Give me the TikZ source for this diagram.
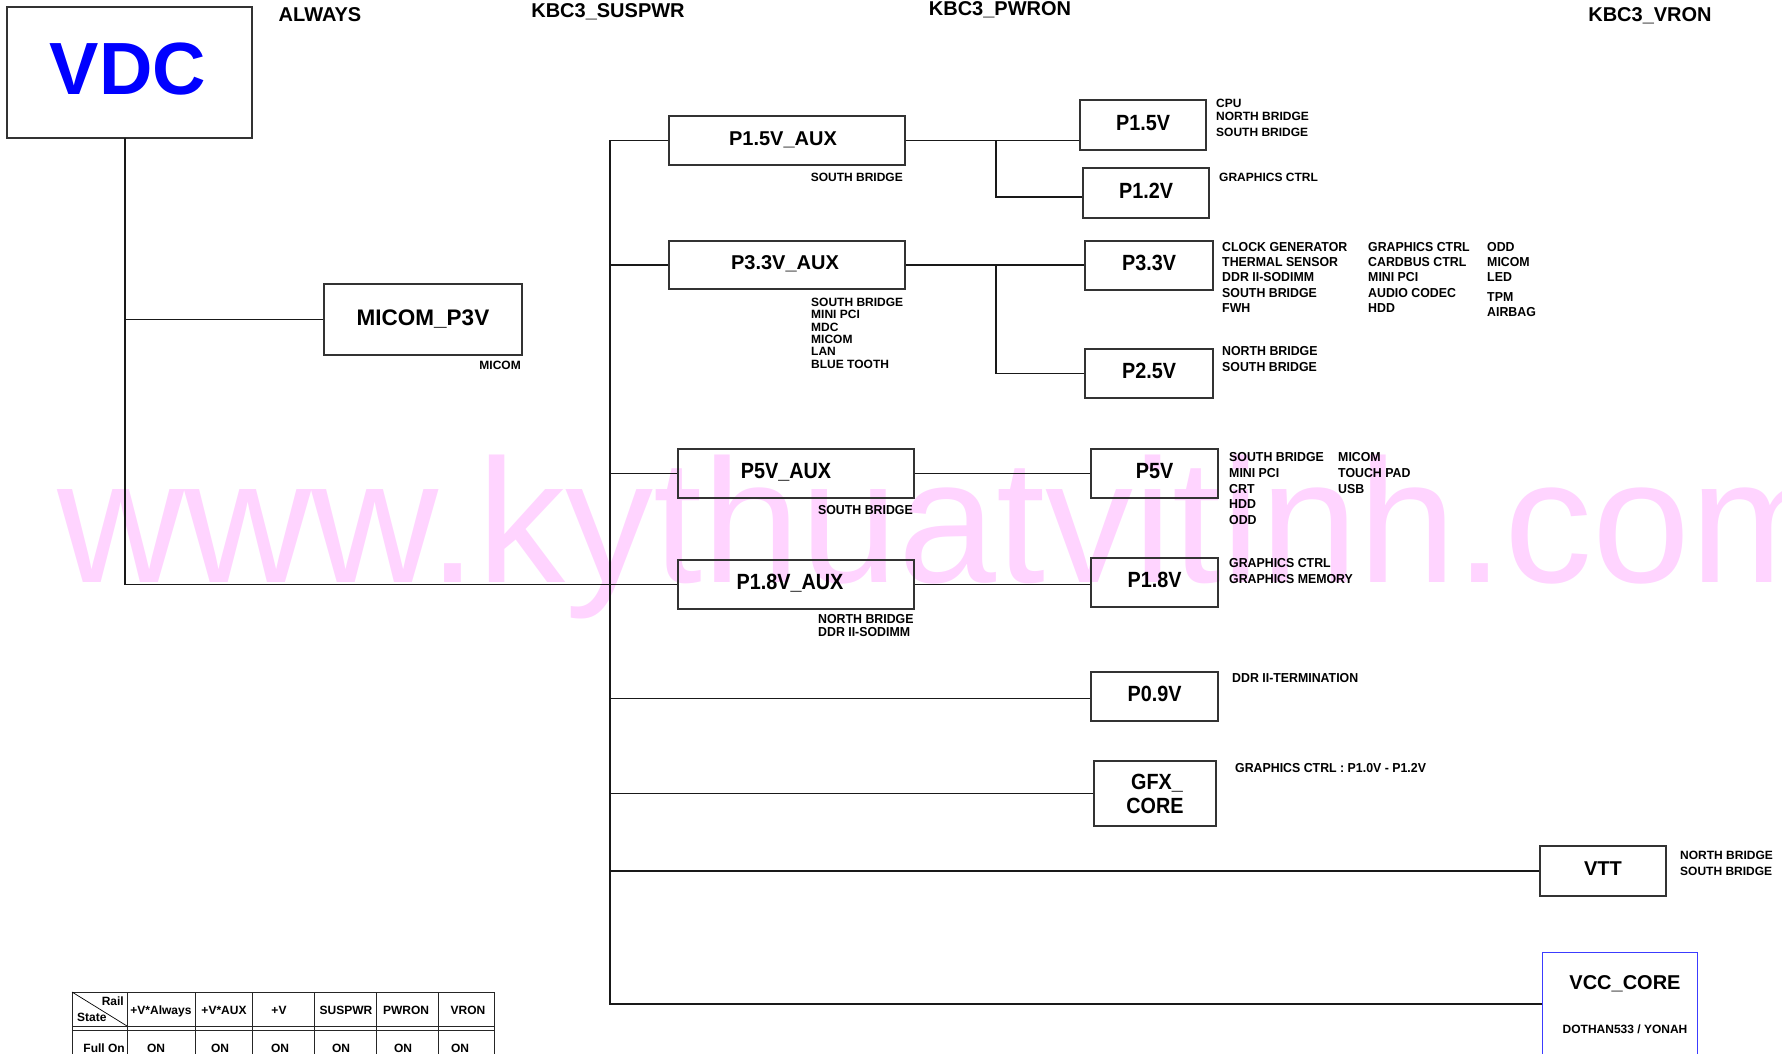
\documentclass[tikz,border=0pt]{standalone}
\usepackage{fontspec}
\setmainfont{Liberation Sans}
\newfontfamily\narf{Liberation Sans}[FakeStretch=0.9]
\newfontfamily\narl{Liberation Sans}[FakeStretch=0.95]
\definecolor{wm}{RGB}{255,212,255}
\definecolor{vdcblue}{RGB}{0,0,255}
\definecolor{vccblue}{RGB}{60,60,255}
\begin{document}
\begin{tikzpicture}[x=1pt,y=-1pt,
  box/.style={draw=black!80, line width=1.3pt, inner sep=0pt},
  conn/.style={line width=1.7pt, black!90},
  big/.style={font=\fontsize{20}{24}\selectfont\bfseries, text height=14.3pt, text depth=5pt},
  bign/.style={font=\narf\fontsize{22}{24}\selectfont\bfseries, text height=15.8pt, text depth=5pt},
  btxt/.style={font=\fontsize{20}{24}\selectfont\bfseries, inner sep=0pt, text height=14.3pt, text depth=0pt},
  btxtn/.style={font=\narf\fontsize{22}{24}\selectfont\bfseries, inner sep=0pt, text height=15.8pt, text depth=0pt},
  lr/.style={font=\fontsize{12}{14}\selectfont\bfseries, inner sep=0pt, anchor=west, text height=8.6pt, text depth=0pt},
  ln/.style={font=\narl\fontsize{13}{15}\selectfont\bfseries, inner sep=0pt, anchor=west, text height=9.3pt, text depth=0pt},
  hdr/.style={font=\fontsize{20}{24}\selectfont\bfseries, inner sep=0pt, text height=14.3pt, text depth=0pt},
  tb/.style={font=\fontsize{12}{14}\selectfont\bfseries, inner sep=0pt, text height=8.6pt, text depth=0pt},
  tline/.style={line width=0.9pt, black!85}
]
\useasboundingbox (0,0) rectangle (1782,1054);
% watermark
\node[anchor=base west, inner sep=0pt, text=wm, font=\fontsize{176}{180}\selectfont] (wmark) at (57,582) {www.kythuatvitinh.com};

% headers
\node[hdr] (hAlways) at (320,14) {ALWAYS};
\node[hdr] (hSus) at (608,10) {KBC3\_SUSPWR};
\node[hdr] (hPwr) at (1000,8) {KBC3\_PWRON};
\node[hdr] (hVr) at (1650,14) {KBC3\_VRON};

% VDC
\node[box, minimum width=245pt, minimum height=131pt] (VDC) at (129.5,72.5) {};
\node[font=\fontsize{74}{80}\selectfont\bfseries, text=vdcblue, inner sep=0pt, text height=53pt, text depth=0pt] (VDCt) at (128,68) {VDC};

% MICOM
\node[box, font=\fontsize{22.5}{26}\selectfont\bfseries, text height=16.1pt, text depth=5pt, minimum width=198pt, minimum height=71pt] (MICOM) at (423,319.5) {MICOM\_P3V};
\node[lr, anchor=east] (lMicom) at (521,365) {MICOM};

% AUX boxes
\node[box, minimum width=236pt, minimum height=49pt] (P15aux) at (787,140.5) {};
\node[btxt] (P15auxt) at (783,138) {P1.5V\_AUX};
\node[box, minimum width=236pt, minimum height=48pt] (P33aux) at (787,265) {};
\node[btxt] (P33auxt) at (785,262.5) {P3.3V\_AUX};
\node[box, minimum width=236pt, minimum height=49pt] (P5aux) at (796,473.5) {};
\node[btxtn] (P5auxt) at (786,471) {P5V\_AUX};
\node[box, minimum width=236pt, minimum height=49pt] (P18aux) at (796,584.5) {};
\node[btxtn] (P18auxt) at (790,582) {P1.8V\_AUX};

\node[lr, anchor=east] (l15aux) at (903,177) {SOUTH BRIDGE};
\node[lr] (l33a1) at (811,302) {SOUTH BRIDGE};
\node[lr] (l33a2) at (811,314) {MINI PCI};
\node[lr] (l33a3) at (811,327) {MDC};
\node[lr] (l33a4) at (811,339) {MICOM};
\node[lr] (l33a5) at (811,351) {LAN};
\node[lr] (l33a6) at (811,364) {BLUE TOOTH};
\node[ln, anchor=east] (l5aux) at (913,510) {SOUTH BRIDGE};
\node[ln] (l18a1) at (818,619) {NORTH BRIDGE};
\node[ln] (l18a2) at (818,632) {DDR II-SODIMM};

% right column boxes
\node[box, bign, minimum width=126pt, minimum height=50pt] (P15) at (1143,125) {P1.5V};
\node[box, bign, minimum width=126pt, minimum height=50pt] (P12) at (1146,193) {P1.2V};
\node[box, bign, minimum width=128pt, minimum height=49pt] (P33) at (1149,265.5) {P3.3V};
\node[box, bign, minimum width=128pt, minimum height=49pt] (P25) at (1149,373.5) {P2.5V};
\node[box, bign, minimum width=127pt, minimum height=49pt] (P5) at (1154.5,473.5) {P5V};
\node[box, bign, minimum width=127pt, minimum height=49pt] (P18) at (1154.5,582.5) {P1.8V};
\node[box, bign, minimum width=127pt, minimum height=49pt] (P09) at (1154.5,696.5) {P0.9V};
\node[box, minimum width=122pt, minimum height=65pt] (GFX) at (1155,793.5) {};
\node[btxtn] (GFXa) at (1157,782) {GFX\_};
\node[btxtn] (GFXb) at (1155,806) {CORE};
\node[box, big, minimum width=126pt, minimum height=50pt] (VTT) at (1603,871) {VTT};
\node[draw=vccblue, line width=1pt, inner sep=0pt, minimum width=155pt, minimum height=130pt] (VCC) at (1619.5,1017) {};
\node[hdr] (VCCt) at (1625,982) {VCC\_CORE};
\node[tb] (VCCs) at (1625,1029) {DOTHAN533 / YONAH};

% right labels
\node[lr] (l15a) at (1216,103) {CPU};
\node[lr] (l15b) at (1216,116) {NORTH BRIDGE};
\node[lr] (l15c) at (1216,132) {SOUTH BRIDGE};
\node[lr] (l12a) at (1219,177) {GRAPHICS CTRL};

\node[ln] (l33c1a) at (1222,247) {CLOCK GENERATOR};
\node[ln] (l33c1b) at (1222,262) {THERMAL SENSOR};
\node[ln] (l33c1c) at (1222,277) {DDR II-SODIMM};
\node[ln] (l33c1d) at (1222,293) {SOUTH BRIDGE};
\node[ln] (l33c1e) at (1222,308) {FWH};
\node[ln] (l33c2a) at (1368,247) {GRAPHICS CTRL};
\node[ln] (l33c2b) at (1368,262) {CARDBUS CTRL};
\node[ln] (l33c2c) at (1368,277) {MINI PCI};
\node[ln] (l33c2d) at (1368,293) {AUDIO CODEC};
\node[ln] (l33c2e) at (1368,308) {HDD};
\node[ln] (l33c3a) at (1487,247) {ODD};
\node[ln] (l33c3b) at (1487,262) {MICOM};
\node[ln] (l33c3c) at (1487,277) {LED};
\node[ln] (l33c3d) at (1487,297) {TPM};
\node[ln] (l33c3e) at (1487,312) {AIRBAG};

\node[ln] (l25a) at (1222,351) {NORTH BRIDGE};
\node[ln] (l25b) at (1222,367) {SOUTH BRIDGE};

\node[ln] (l5c1a) at (1229,457) {SOUTH BRIDGE};
\node[ln] (l5c1b) at (1229,473) {MINI PCI};
\node[ln] (l5c1c) at (1229,489) {CRT};
\node[ln] (l5c1d) at (1229,504) {HDD};
\node[ln] (l5c1e) at (1229,520) {ODD};
\node[ln] (l5c2a) at (1338,457) {MICOM};
\node[ln] (l5c2b) at (1338,473) {TOUCH PAD};
\node[ln] (l5c2c) at (1338,489) {USB};

\node[ln] (l18a) at (1229,563) {GRAPHICS CTRL};
\node[ln] (l18b) at (1229,579) {GRAPHICS MEMORY};
\node[ln] (l09) at (1232,678) {DDR II-TERMINATION};
\node[ln] (lgfx) at (1235,768) {GRAPHICS CTRL : P1.0V - P1.2V};
\node[lr] (lvtta) at (1680,855) {NORTH BRIDGE};
\node[lr] (lvttb) at (1680,871) {SOUTH BRIDGE};

% connectors
\coordinate (tr) at (125,138);
\coordinate (bt) at (610,140.5);
\coordinate (bb) at (610,1004);
\coordinate (j1) at (996,140.5);
\coordinate (j2) at (996,265);
\coordinate (p09in) at ([yshift=-2pt]P09.west);
\coordinate (p12in) at ([yshift=-4pt]P12.west);
\draw[conn] (tr) |- (P18aux.west);
\draw[conn] (tr |- MICOM.west) -- (MICOM.west);
\draw[conn] (P15aux.west) -- (bt) -- (bb) -- (bb -| VCC.west);
\draw[conn] (bt |- P33aux.west) -- (P33aux.west);
\draw[conn] (bt |- P5aux.west) -- (P5aux.west);
\draw[conn] (bt |- p09in) -- (p09in);
\draw[conn] (bt |- GFX.west) -- (GFX.west);
\draw[conn] (bt |- VTT.west) -- (VTT.west);
\draw[conn] (P15aux.east) -- (P15aux.east -| P15.west);
\draw[conn] (j1) |- (p12in);
\draw[conn] (P33aux.east) -- (P33aux.east -| P33.west);
\draw[conn] (j2) |- (P25.west);
\draw[conn] (P5aux.east) -- (P5aux.east -| P5.west);
\draw[conn] (P18aux.east) -- (P18aux.east -| P18.west);

% table
\draw[tline] (72,992) -- (494,992);
\draw[tline] (72,1026) -- (494,1026);
\draw[tline] (72,1030) -- (494,1030);
\foreach \cx in {72,127,195,252,314,376,438,494} { \draw[tline] (\cx,992) -- (\cx,1060); }
\draw[line width=0.7pt] (72,992) -- (127,1026);
\node[tb, anchor=east] (tRail) at (124,1001) {Rail};
\node[tb, anchor=west] (tState) at (77,1017) {State};
\node[tb] (t1) at (161,1010) {+V*Always};
\node[tb] (t2) at (224,1010) {+V*AUX};
\node[tb] (t3) at (279,1010) {+V};
\node[tb] (t4) at (346,1010) {SUSPWR};
\node[tb] (t5) at (406,1010) {PWRON};
\node[tb] (t6) at (468,1010) {VRON};
\node[tb, anchor=east] (tFull) at (125,1048) {Full On};
\node[tb] (o1) at (156,1048) {ON};
\node[tb] (o2) at (220,1048) {ON};
\node[tb] (o3) at (280,1048) {ON};
\node[tb] (o4) at (341,1048) {ON};
\node[tb] (o5) at (403,1048) {ON};
\node[tb] (o6) at (460,1048) {ON};
\end{tikzpicture}
\end{document}
